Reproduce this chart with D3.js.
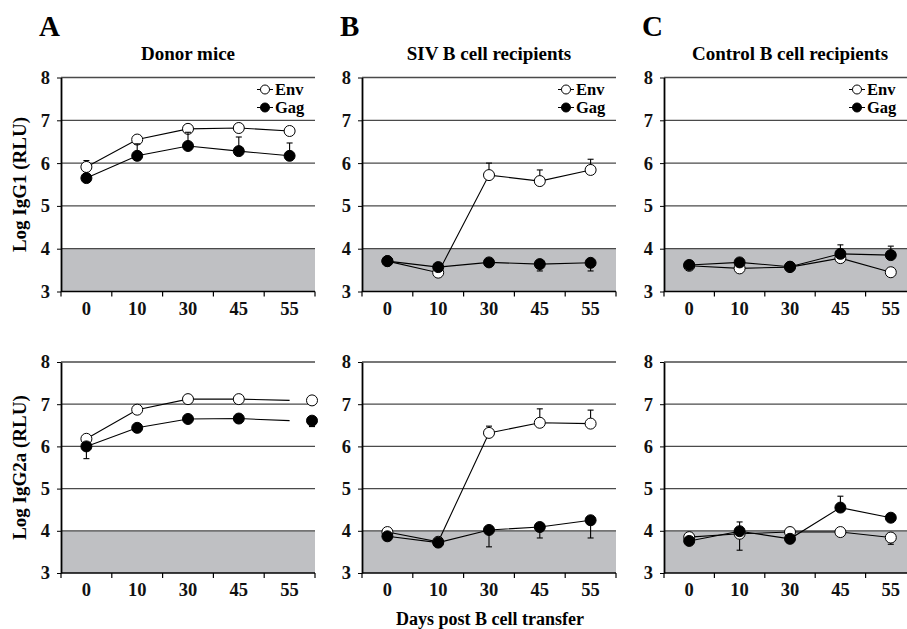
<!DOCTYPE html>
<html>
<head>
<meta charset="utf-8">
<script src="https://cdn.jsdelivr.net/npm/d3@7"></script>
<style>
  body { margin: 0; background: #fff; }
  svg { display: block; font-family: "Liberation Serif", "Times New Roman", serif; font-weight: bold; }
</style>
</head>
<body>
<div id="container"></div>
<script>
// data we work with
let days = ["0", "10", "30", "45", "55"];
let yTicks = [3, 4, 5, 6, 7, 8];
let letters = ["A", "B", "C"];
let titles = ["Donor mice", "SIV B cell recipients", "Control B cell recipients"];
let rowTitles = ["Log IgG1 (RLU)", "Log IgG2a (RLU)"];
let seriesNames = ["Env", "Gag"];
let xTitle = "Days post B cell transfer";

// error values: positive = bar drawn upward, negative = bar drawn downward
// IgG1
let donorG1Env = [5.91, 6.55, 6.80, 6.82, 6.75];
let donorG1EnvErr = [0.15, 0, 0, 0, 0];
let donorG1Gag = [5.65, 6.17, 6.40, 6.28, 6.17];
let donorG1GagErr = [0, 0.28, 0.32, 0.33, 0.30];

let sivG1Env = [3.71, 3.44, 5.72, 5.58, 5.84];
let sivG1EnvErr = [0, 0, 0.28, 0.26, 0.25];
let sivG1Gag = [3.71, 3.57, 3.68, 3.64, 3.67];
let sivG1GagErr = [0, 0, 0, -0.16, -0.19];

let ctrlG1Env = [3.60, 3.54, 3.57, 3.78, 3.45];
let ctrlG1EnvErr = [0, 0, 0, 0, 0];
let ctrlG1Gag = [3.62, 3.68, 3.58, 3.88, 3.85];
let ctrlG1GagErr = [0, 0.05, 0, 0.21, 0.21];

// IgG2a
let donorG2Env = [6.18, 6.87, 7.12, 7.12, 7.09];
let donorG2EnvErr = [0, 0, 0, 0, 0];
let donorG2Gag = [6.00, 6.44, 6.65, 6.66, 6.61];
let donorG2GagErr = [-0.29, 0, 0, 0, -0.14];

let sivG2Env = [3.97, 3.74, 6.32, 6.56, 6.54];
let sivG2EnvErr = [0, 0, 0.16, 0.33, 0.32];
let sivG2Gag = [3.87, 3.72, 4.02, 4.09, 4.25];
let sivG2GagErr = [0, 0, -0.40, -0.26, -0.42];

let ctrlG2Env = [3.85, 3.93, 3.97, 3.97, 3.84];
let ctrlG2EnvErr = [0, -0.39, 0, 0, -0.16];
let ctrlG2Gag = [3.76, 3.99, 3.81, 4.55, 4.31];
let ctrlG2GagErr = [0, 0.22, 0, 0.27, 0];

let w = 907;
let h = 629;

let viz = d3.select("#container")
  .append("svg")
    .attr("width", w)
    .attr("height", h)
;

let colRanges = [[61, 315], [362, 616], [664, 916]];
let rowRanges = [[291.5, 77.5], [573, 362]];

// panel letters and titles
letters.forEach(function(l, i){
  viz.append("text")
    .attr("x", colRanges[i][0] - 22)
    .attr("y", 36)
    .attr("font-size", 29)
    .text(l);
  viz.append("text")
    .attr("x", (colRanges[i][0] + Math.min(colRanges[i][1], 916)) / 2)
    .attr("y", 60)
    .attr("text-anchor", "middle")
    .attr("font-size", 19)
    .text(titles[i]);
});

// row titles (y axis labels)
rowTitles.forEach(function(t, r){
  let mid = (rowRanges[r][0] + rowRanges[r][1]) / 2;
  viz.append("text")
    .attr("transform", "translate(26," + mid + ") rotate(-90)")
    .attr("text-anchor", "middle")
    .attr("font-size", 19)
    .text(t);
});

viz.append("text")
  .attr("x", 490)
  .attr("y", 625)
  .attr("text-anchor", "middle")
  .attr("font-size", 18)
  .text(xTitle);

function drawPanel(col, row, env, envErr, gag, gagErr, opts){
  opts = opts || {};
  let xr = colRanges[col];
  let x = d3.scaleBand().domain(days).range(xr).padding(0);
  let y = d3.scaleLinear().domain([3, 8]).range(rowRanges[row]);
  let g = viz.append("g");
  let cx = function(i){ return x(days[i]) + x.bandwidth() / 2; };

  // gray "background" band 3..4
  g.append("rect")
    .attr("x", xr[0])
    .attr("y", y(4))
    .attr("width", xr[1] - xr[0])
    .attr("height", y(3) - y(4))
    .attr("fill", "#bfc0c3");

  // gridlines
  g.selectAll(".grid").data(yTicks.filter(function(d){ return d > 3; }))
    .enter().append("line")
      .attr("x1", xr[0]).attr("x2", xr[1])
      .attr("y1", function(d){ return y(d); })
      .attr("y2", function(d){ return y(d); })
      .attr("stroke", "#4a4a4a")
      .attr("stroke-width", 1.3);

  // y axis
  let yAxis = d3.axisLeft(y).tickValues(yTicks).tickSize(4).tickSizeOuter(0).tickPadding(7).tickFormat(d3.format("d"));
  let yAxisGroup = g.append("g").attr("transform", "translate(" + xr[0] + ",0)").call(yAxis);
  yAxisGroup.attr("font-family", null).attr("font-size", 18.5);
  yAxisGroup.select(".domain").attr("stroke-width", 1.8);
  yAxisGroup.selectAll("text").attr("fill", "#111");

  // x axis: labels at band centers, ticks at band edges
  let xAxis = d3.axisBottom(x).tickSize(0).tickPadding(10);
  let xAxisGroup = g.append("g").attr("transform", "translate(0," + y(3) + ")").call(xAxis);
  xAxisGroup.attr("font-family", null).attr("font-size", 18.5);
  xAxisGroup.select(".domain").remove();
  xAxisGroup.selectAll("text").attr("fill", "#111");
  g.append("line")
    .attr("x1", xr[0]).attr("x2", xr[1])
    .attr("y1", y(3)).attr("y2", y(3))
    .attr("stroke", "#000").attr("stroke-width", 1.5);
  let edges = days.map(function(d){ return x(d); }).concat([xr[1]]);
  g.selectAll(".xtick").data(edges).enter().append("line")
    .attr("x1", function(d){ return d; }).attr("x2", function(d){ return d; })
    .attr("y1", y(3)).attr("y2", y(3) + 5)
    .attr("stroke", "#000").attr("stroke-width", 1.2);

  // marker x (donor IgG2a panel has the last point pushed to the plot edge)
  let mx = function(i){
    if (opts.shiftLast && i === days.length - 1) return xr[1] - 3;
    return cx(i);
  };

  let series = [
    { name: "Env", vals: env, err: envErr, fill: "#fff" },
    { name: "Gag", vals: gag, err: gagErr, fill: "#000" }
  ];

  series.forEach(function(s){
    let line = d3.line()
      .x(function(d, i){ return cx(i); })
      .y(function(d){ return y(d); });
    g.append("path")
      .datum(s.vals)
      .attr("d", line)
      .attr("fill", "none")
      .attr("stroke", "#000")
      .attr("stroke-width", 1.1);
    // error bars
    s.vals.forEach(function(v, i){
      let e = s.err[i];
      if (!e) return;
      g.append("line")
        .attr("x1", mx(i)).attr("x2", mx(i))
        .attr("y1", y(v)).attr("y2", y(v + e))
        .attr("stroke", "#000").attr("stroke-width", 1.1);
      g.append("line")
        .attr("x1", mx(i) - 3).attr("x2", mx(i) + 3)
        .attr("y1", y(v + e)).attr("y2", y(v + e))
        .attr("stroke", "#000").attr("stroke-width", 1.1);
    });
    g.selectAll(".pt" + s.name).data(s.vals).enter().append("circle")
      .attr("cx", function(d, i){ return mx(i); })
      .attr("cy", function(d){ return y(d); })
      .attr("r", 5.5)
      .attr("fill", s.fill)
      .attr("stroke", "#000")
      .attr("stroke-width", 1);
  });

  // legend
  if (opts.legend) {
    let lx = Math.min(xr[1], w) - 50;
    series.forEach(function(s, k){
      let ly = y(8) + 12 + k * 18;
      g.append("line")
        .attr("x1", lx - 8).attr("x2", lx + 8)
        .attr("y1", ly).attr("y2", ly)
        .attr("stroke", "#000").attr("stroke-width", 1);
      g.append("circle")
        .attr("cx", lx).attr("cy", ly).attr("r", 4.5)
        .attr("fill", s.fill).attr("stroke", "#000");
      g.append("text")
        .attr("x", lx + 10).attr("y", ly)
        .attr("dy", "0.35em")
        .attr("font-size", 16.5)
        .text(seriesNames[k]);
    });
  }
}

drawPanel(0, 0, donorG1Env, donorG1EnvErr, donorG1Gag, donorG1GagErr, { legend: true });
drawPanel(1, 0, sivG1Env, sivG1EnvErr, sivG1Gag, sivG1GagErr, { legend: true });
drawPanel(2, 0, ctrlG1Env, ctrlG1EnvErr, ctrlG1Gag, ctrlG1GagErr, { legend: true });
drawPanel(0, 1, donorG2Env, donorG2EnvErr, donorG2Gag, donorG2GagErr, { shiftLast: true });
drawPanel(1, 1, sivG2Env, sivG2EnvErr, sivG2Gag, sivG2GagErr);
drawPanel(2, 1, ctrlG2Env, ctrlG2EnvErr, ctrlG2Gag, ctrlG2GagErr);
</script>
</body>
</html>
